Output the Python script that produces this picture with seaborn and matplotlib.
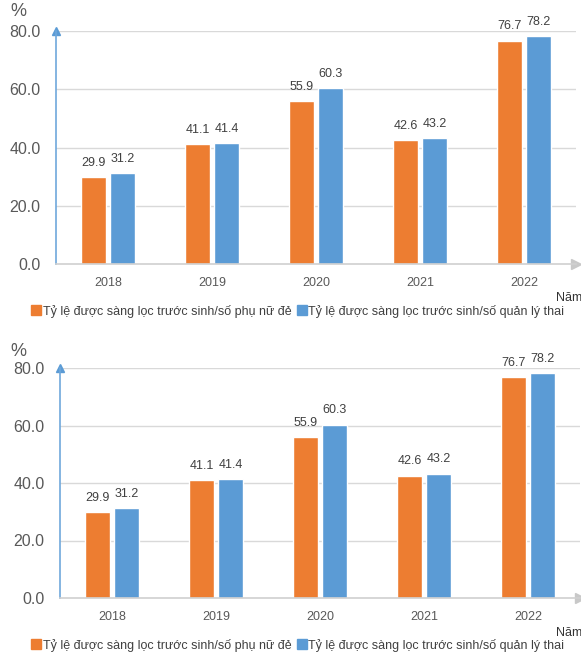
import numpy as np
import pandas as pd
import matplotlib.pyplot as plt
import seaborn as sns

# data
years = ['2018', '2019', '2020', '2021', '2022']
phu_nu_de = [29.9, 41.1, 55.9, 42.6, 76.7]
quan_ly_thai = [31.2, 41.4, 60.3, 43.2, 78.2]
series_names = ['Tỷ lệ được sàng lọc trước sinh/số phụ nữ đẻ',
                'Tỷ lệ được sàng lọc trước sinh/số quản lý thai']
yticks = [0, 20, 40, 60, 80]

df = pd.DataFrame({
    'Năm': years * 2,
    'value': phu_nu_de + quan_ly_thai,
    'series': [series_names[0]] * 5 + [series_names[1]] * 5,
})

sns.set_style('white')
plt.rcParams['font.family'] = ['Liberation Sans', 'DejaVu Sans']

colors = ['#ED7D31', '#5B9BD5']
txt = '#595959'

fig = plt.figure(figsize=(5.81, 6.55), dpi=100)
W, H = 581, 655


def panel(left, right, y0, y80, leg_y, nam_y, pct_y):
    ax = fig.add_axes([left / W, 1 - y0 / H, (right - left) / W, (y0 - y80) / H])
    sns.barplot(data=df, x='Năm', y='value', hue='series', palette=colors,
                width=0.56, gap=0.17, ax=ax, legend=False, saturation=1)
    ax.set_ylim(0, 80)
    ax.set_xlim(-0.5, 4.5)
    ax.set_yticks(yticks)
    ax.set_yticklabels([f'{v:.1f}' for v in yticks], fontsize=11.5, color=txt)
    ax.tick_params(axis='y', length=0, pad=11)
    ax.tick_params(axis='x', length=0, pad=9, labelsize=9, labelcolor=txt)
    ax.set_xlabel('')
    ax.set_ylabel('')
    for v in yticks[1:]:
        ax.axhline(v, color='#D9D9D9', lw=1, zorder=0)
    for s in ['top', 'right']:
        ax.spines[s].set_visible(False)
    ax.spines['left'].set_color('#6FA8DC')
    ax.spines['left'].set_linewidth(1.2)
    ax.spines['bottom'].set_color('#D0D0D0')
    ax.spines['bottom'].set_linewidth(1.2)
    ax.plot(0, 1, '^', color='#5B9BD5', ms=6, transform=ax.transAxes, clip_on=False)
    ax.plot(1, 0, '>', color='#C8C8C8', ms=7, transform=ax.transAxes, clip_on=False)
    for c in ax.containers:
        ax.bar_label(c, labels=[f'{v:.1f}' for v in c.datavalues], padding=6,
                     fontsize=9, color='#404040')
    fig.text(10 / W, 1 - pct_y / H, '%', fontsize=13, color=txt, va='center')
    fig.text(556 / W, 1 - nam_y / H, 'Năm', fontsize=9, color='#333333', va='center')
    handles = [plt.Line2D([], [], marker='s', ls='', color=c, ms=7) for c in colors]
    fig.legend(handles, series_names, loc='center left',
               bbox_to_anchor=(31 / W, 1 - leg_y / H), ncol=2, frameon=False,
               fontsize=9, handletextpad=0.15, columnspacing=0.4,
               handlelength=0.8, borderaxespad=0, borderpad=0, labelcolor='#404040')
    return ax


panel(56, 576, 264, 31, 311, 298, 12)
panel(60, 580, 598, 368, 645, 633, 352)

fig.savefig('out.png', dpi=100)
